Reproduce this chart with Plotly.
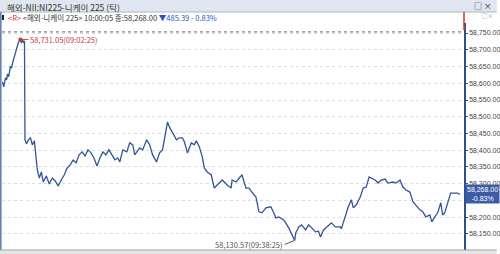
import plotly.graph_objects as go

DATE = "2024-01-01 "

times = [
    "09:00:05", "09:00:13", "09:00:28", "09:00:36", "09:00:44", "09:00:52", "09:01:07", "09:01:15",
    "09:01:23", "09:01:39", "09:01:46", "09:02:02", "09:02:10", "09:02:25", "09:02:33", "09:02:41",
    "09:02:49", "09:02:57", "09:03:01", "09:03:12", "09:03:28", "09:03:44", "09:03:59", "09:04:15",
    "09:04:23", "09:04:38", "09:04:54", "09:05:10", "09:05:25", "09:05:49", "09:06:12", "09:06:36",
    "09:06:59", "09:07:23", "09:07:46", "09:08:10", "09:08:33", "09:08:57", "09:09:20", "09:09:44",
    "09:10:07", "09:10:31", "09:10:54", "09:11:17", "09:11:41", "09:12:04", "09:12:28", "09:12:51",
    "09:13:15", "09:13:38", "09:14:02", "09:14:25", "09:14:49", "09:15:12", "09:15:28", "09:15:51",
    "09:16:23", "09:16:46", "09:17:10", "09:17:25", "09:18:04", "09:18:28", "09:18:59", "09:19:23",
    "09:19:46", "09:20:17", "09:20:41", "09:21:04", "09:21:20", "09:21:43", "09:21:59", "09:22:22",
    "09:22:54", "09:23:17", "09:23:41", "09:23:56", "09:24:20", "09:24:51", "09:25:15", "09:25:30",
    "09:25:54", "09:26:17", "09:26:33", "09:26:56", "09:27:28", "09:27:51", "09:28:30", "09:28:54",
    "09:29:33", "09:30:04", "09:30:12", "09:30:43", "09:31:07", "09:31:30", "09:32:01", "09:32:25",
    "09:32:48", "09:33:20", "09:33:43", "09:34:07", "09:34:38", "09:35:17", "09:35:40", "09:35:56",
    "09:36:20", "09:36:59", "09:37:38", "09:38:01", "09:38:25", "09:38:33", "09:38:56", "09:39:19",
    "09:39:51", "09:40:14", "09:40:38", "09:41:09", "09:41:32", "09:41:48", "09:42:12", "09:42:51",
    "09:43:14", "09:43:45", "09:44:25", "09:44:32", "09:45:04", "09:45:27", "09:45:51", "09:46:06",
    "09:46:30", "09:47:01", "09:47:24", "09:47:48", "09:48:11", "09:48:27", "09:48:58", "09:49:22",
    "09:49:45", "09:50:17", "09:50:40", "09:51:19", "09:51:43", "09:52:14", "09:52:37", "09:53:01",
    "09:53:32", "09:53:56", "09:54:19", "09:54:50", "09:55:14", "09:55:37", "09:56:09", "09:56:24",
    "09:56:48", "09:57:11", "09:57:35", "09:57:50", "09:58:06", "09:58:29", "09:58:53", "09:59:24",
    "09:59:48", "10:00:05",
]

prices = [
    58604, 58589, 58616, 58610, 58628, 58619, 58651, 58645,
    58660, 58681, 58693, 58711, 58723, 58731.05, 58720, 58729,
    58723, 58726, 58431, 58419, 58431, 58437, 58416, 58428,
    58401, 58341, 58317, 58335, 58305, 58323, 58299, 58317,
    58308, 58293, 58311, 58326, 58347, 58356, 58371, 58362,
    58386, 58395, 58383, 58401, 58392, 58377, 58353, 58377,
    58395, 58386, 58401, 58386, 58371, 58377, 58365, 58401,
    58395, 58422, 58416, 58386, 58407, 58401, 58431, 58416,
    58386, 58365, 58392, 58401, 58440, 58484, 58469, 58454,
    58431, 58437, 58437, 58425, 58392, 58422, 58416, 58428,
    58410, 58380, 58347, 58335, 58326, 58287, 58302, 58311,
    58296, 58287, 58311, 58305, 58317, 58326, 58287, 58287,
    58275, 58260, 58216, 58213, 58228, 58231, 58213, 58198,
    58201, 58192, 58168, 58147, 58130.57, 58153, 58170, 58177,
    58162, 58177, 58168, 58156, 58158, 58141, 58162, 58177,
    58183, 58171, 58171, 58165, 58207, 58231, 58252, 58228,
    58237, 58260, 58287, 58290, 58320, 58317, 58311, 58302,
    58311, 58314, 58302, 58305, 58302, 58311, 58290, 58281,
    58275, 58246, 58237, 58222, 58216, 58201, 58207, 58186,
    58201, 58213, 58243, 58207, 58213, 58246, 58272, 58272,
    58272, 58268.00,
]

title_text = "해외-NII:NI225-니케이 225 (틱)"
symbol_name = "해외-니케이 225"
change = -485.39
change_pct = -0.83
y_ticks = [58100 + 50 * i for i in range(14)]

last_price = prices[-1]
last_time = times[-1]
prev_close = last_price - change
i_max = prices.index(max(prices))
i_min = prices.index(min(prices))

W, H = 500, 254
ML, MR, MT, MB = 2, 33, 23, 0
PW, PH = W - ML - MR, H - MT - MB


def px(x):
    return (x - ML) / PW


def py(y):
    return (H - MB - y) / PH


xs = [DATE + t for t in times]

# tick labels: the one hidden behind the current-price box is left blank
tick_text = ["" if abs(v - last_price) < 25 else f"{v:,.2f}" for v in y_ticks]

fig = go.Figure()
fig.add_trace(go.Scatter(
    x=xs, y=prices, mode="lines",
    line=dict(color="#33549a", width=1.3),
    hoverinfo="skip", showlegend=False,
))
fig.add_trace(go.Scatter(
    x=[xs[i_max]], y=[prices[i_max]], mode="markers",
    marker=dict(color="#d03030", size=4),
    hoverinfo="skip", showlegend=False,
))

shapes = [
    dict(type="rect", xref="paper", yref="paper", x0=px(0), x1=px(W), y0=py(12), y1=py(0),
         fillcolor="#dfe6ef", line=dict(width=0), layer="below"),
    dict(type="line", xref="paper", yref="paper", x0=px(0), x1=px(W), y0=py(12), y1=py(12),
         line=dict(color="#aab6c6", width=1)),
    dict(type="line", xref="paper", yref="paper", x0=px(0.8), x1=px(0.8), y0=py(250), y1=py(12),
         line=dict(color="#5b78b0", width=1.5)),
    dict(type="line", xref="paper", yref="paper", x0=1, x1=1, y0=py(30), y1=py(12),
         line=dict(color="#d03a2a", width=1.5)),
    dict(type="line", xref="paper", yref="y", x0=0, x1=1, y0=prev_close, y1=prev_close,
         line=dict(color="#666666", width=1, dash="dot")),
    dict(type="rect", xref="paper", yref="paper", x0=px(0), x1=px(W), y0=py(H), y1=py(250),
         fillcolor="#e6e6e6", line=dict(width=0)),
    dict(type="line", xref="paper", yref="paper", x0=px(0), x1=px(W), y0=py(250), y1=py(250),
         line=dict(color="#a0a0a0", width=1)),
    dict(type="rect", xref="paper", yref="paper", x0=px(2), x1=px(4), y0=py(20), y1=py(15),
         fillcolor="#222222", line=dict(width=0)),
]

info = (f"<span style='color:#c83a3a'>&lt;R&gt;</span> &lt;{symbol_name}&gt; {last_time} "
        f"종:{last_price:,.2f} <span style='color:#2a55c0'>▼{abs(change):,.2f} - {abs(change_pct):.2f}%</span>")

annotations = [
    dict(xref="paper", yref="paper", x=px(5), y=py(6.5), xanchor="left", yanchor="middle",
         text=title_text, showarrow=False, font=dict(size=8.5, color="#333333")),
    dict(xref="paper", yref="paper", x=px(497), y=py(5.5), xanchor="right", yanchor="middle",
         text="□ ×", showarrow=False, font=dict(size=8, color="#222222")),
    dict(xref="paper", yref="paper", x=px(498), y=py(16), xanchor="right", yanchor="middle",
         text="□×", showarrow=False, font=dict(size=5.5, color="#888888")),
    dict(xref="paper", yref="paper", x=px(6), y=py(17.5), xanchor="left", yanchor="middle",
         text=info, showarrow=False, font=dict(size=7.5, color="#333333")),
    dict(x=xs[i_max], y=prices[i_max], xref="x", yref="y",
         text=f"{prices[i_max]:,.2f}({times[i_max]})", showarrow=True, arrowhead=0,
         arrowwidth=1, arrowcolor="#d03a2a", ax=8, ay=0, xanchor="left", yanchor="middle",
         font=dict(size=7.5, color="#c83a3a")),
    dict(x=xs[i_min], y=prices[i_min], xref="x", yref="y",
         text=f"{prices[i_min]:,.2f}({times[i_min]})", showarrow=True, arrowhead=0,
         arrowwidth=1, arrowcolor="#555555", ax=-10, ay=4, xanchor="right", yanchor="middle",
         font=dict(size=7.5, color="#555555")),
    dict(xref="paper", yref="y", x=1.003, y=last_price, xanchor="left", yanchor="middle",
         text=f"{last_price:,.2f}<br>{change_pct:.2f}%", showarrow=False,
         bgcolor="#3b5ca6", borderpad=1, align="center",
         font=dict(size=7, color="#ffffff", family="Liberation Sans Narrow, Arial Narrow, sans-serif")),
]

fig.update_layout(
    width=W, height=H,
    margin=dict(l=ML, r=MR, t=MT, b=MB, pad=0),
    paper_bgcolor="#ffffff", plot_bgcolor="#ffffff",
    font=dict(family="Noto Sans CJK KR, sans-serif", color="#333333"),
    shapes=shapes, annotations=annotations, showlegend=False,
    xaxis=dict(type="date", range=[DATE + "09:00:00", DATE + "10:00:38"],
               showgrid=False, showticklabels=False, zeroline=False, showline=False,
               ticks="", fixedrange=True),
    yaxis=dict(side="right", range=[58090, 58780], tickvals=y_ticks, ticktext=tick_text,
               showgrid=True, gridcolor="#dcdcdc", griddash="dot",
               gridwidth=1, zeroline=False, showline=True, linecolor="#2f4f90", linewidth=1.5,
               ticks="outside", ticklen=2, tickcolor="#2f4f90",
               tickfont=dict(size=7, color="#444444",
                             family="Liberation Sans Narrow, Arial Narrow, sans-serif"),
               fixedrange=True),
)

fig.write_html("out.html")
